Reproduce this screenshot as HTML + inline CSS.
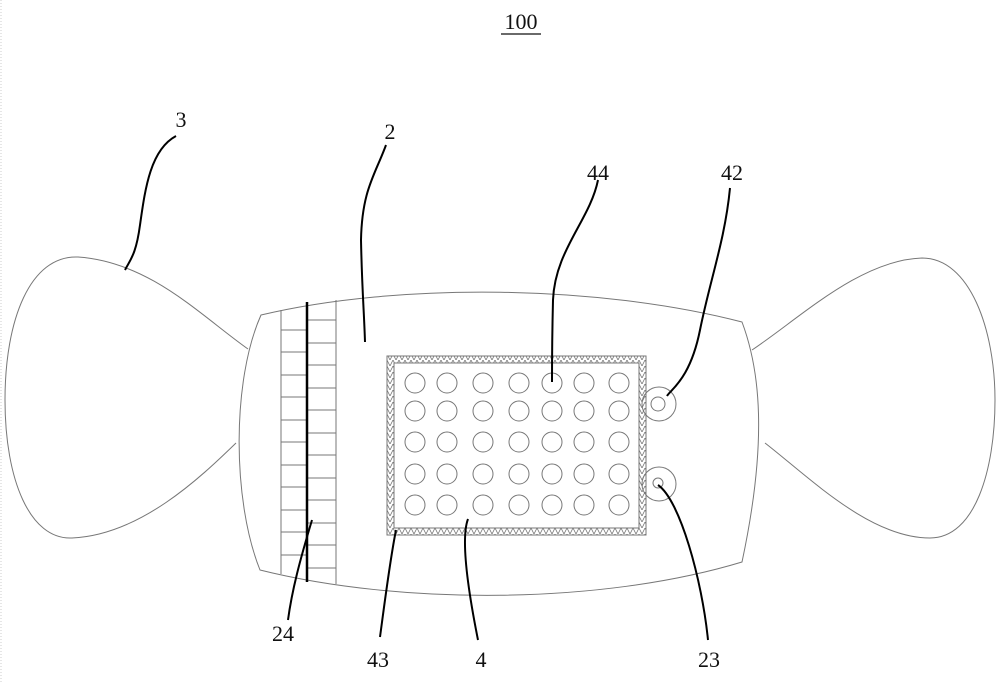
<!DOCTYPE html>
<html><head><meta charset="utf-8"><style>
html,body{margin:0;padding:0;background:#fff;}
svg{display:block;}
text{font-family:"Liberation Serif",serif;font-size:22px;fill:#111;}
</style></head><body>
<svg width="1000" height="682" viewBox="0 0 1000 682" xmlns="http://www.w3.org/2000/svg">
<defs>
<pattern id="hx" width="6" height="6" patternUnits="userSpaceOnUse">
<path d="M0,6 L3,0 L6,6" fill="none" stroke="#777" stroke-width="0.8"/>
</pattern>
</defs>
<line x1="1" y1="0" x2="1" y2="682" stroke="#ccc" stroke-width="1" stroke-dasharray="1,2"/>
<text x="521" y="29" text-anchor="middle">100</text>
<line x1="501" y1="34" x2="541" y2="34" stroke="#111" stroke-width="1.2"/>
<g fill="none" stroke="#777" stroke-width="1">
<path d="M248,349 C200,315 150,262 78,257 C30,255 5,320 5,400 C5,480 30,540 72,538 C140,535 200,478 236,443"/>
<path d="M752,350 C800,318 860,260 922,258 C970,258 995,330 995,400 C995,470 975,538 930,538 C870,538 810,478 765,443"/>
<path d="M261,315 C400,282 600,285 742,322 C760,370 768,440 742,562 C600,605 400,605 260,570 C232,500 232,380 261,315 Z"/>
</g>
<g stroke="#777" stroke-width="1" fill="none">
<line x1="281" y1="310" x2="281" y2="574"/>
<line x1="336" y1="300" x2="336" y2="584"/>
<path d="M281,330 H306 M281,352 H306 M281,375 H306 M281,397 H306 M281,420 H306 M281,442 H306 M281,465 H306 M281,487 H306 M281,510 H306 M281,532 H306 M281,555 H306"/>
<path d="M308,320 H336 M308,343 H336 M308,365 H336 M308,388 H336 M308,410 H336 M308,433 H336 M308,455 H336 M308,478 H336 M308,500 H336 M308,523 H336 M308,545 H336 M308,568 H336"/>
</g>
<line x1="307" y1="302" x2="307" y2="582" stroke="#000" stroke-width="2.5"/>
<path d="M387,356 H646 V535 H387 Z M394,363 V528 H639 V363 Z" fill="url(#hx)" fill-rule="evenodd" stroke="#777" stroke-width="1"/>
<g fill="none" stroke="#777" stroke-width="1">
<g id="r">
<circle cx="415" cy="383" r="10"/><circle cx="447" cy="383" r="10"/><circle cx="483" cy="383" r="10"/><circle cx="519" cy="383" r="10"/><circle cx="552" cy="383" r="10"/><circle cx="584" cy="383" r="10"/><circle cx="619" cy="383" r="10"/>
</g>
<use href="#r" y="28"/><use href="#r" y="59"/><use href="#r" y="91"/><use href="#r" y="122"/>
<circle cx="659" cy="404" r="17"/><circle cx="658" cy="404" r="7"/>
<circle cx="659" cy="484" r="17"/><circle cx="658" cy="483" r="5"/>
</g>
<g fill="none" stroke="#000" stroke-width="2">
<path d="M176,136 C150,150 145,190 140,225 C136,255 130,260 125,270"/>
<path d="M386,145 C375,175 362,190 361,240 C362,290 364,310 365,342"/>
<path d="M598,180 C590,220 555,250 553,300 C552,340 552,360 552,382"/>
<path d="M730,188 C725,240 710,280 700,330 C690,380 670,390 667,396"/>
<path d="M288,620 C292,590 300,560 312,520"/>
<path d="M380,637 C385,600 390,560 396,530"/>
<path d="M478,640 C470,600 460,540 468,519"/>
<path d="M708,640 C702,580 680,500 658,485"/>
</g>
<g>
<text x="181" y="127" text-anchor="middle">3</text>
<text x="390" y="139" text-anchor="middle">2</text>
<text x="598" y="180" text-anchor="middle">44</text>
<text x="732" y="180" text-anchor="middle">42</text>
<text x="283" y="641" text-anchor="middle">24</text>
<text x="378" y="667" text-anchor="middle">43</text>
<text x="481" y="667" text-anchor="middle">4</text>
<text x="709" y="667" text-anchor="middle">23</text>
</g>
</svg>
</body></html>
